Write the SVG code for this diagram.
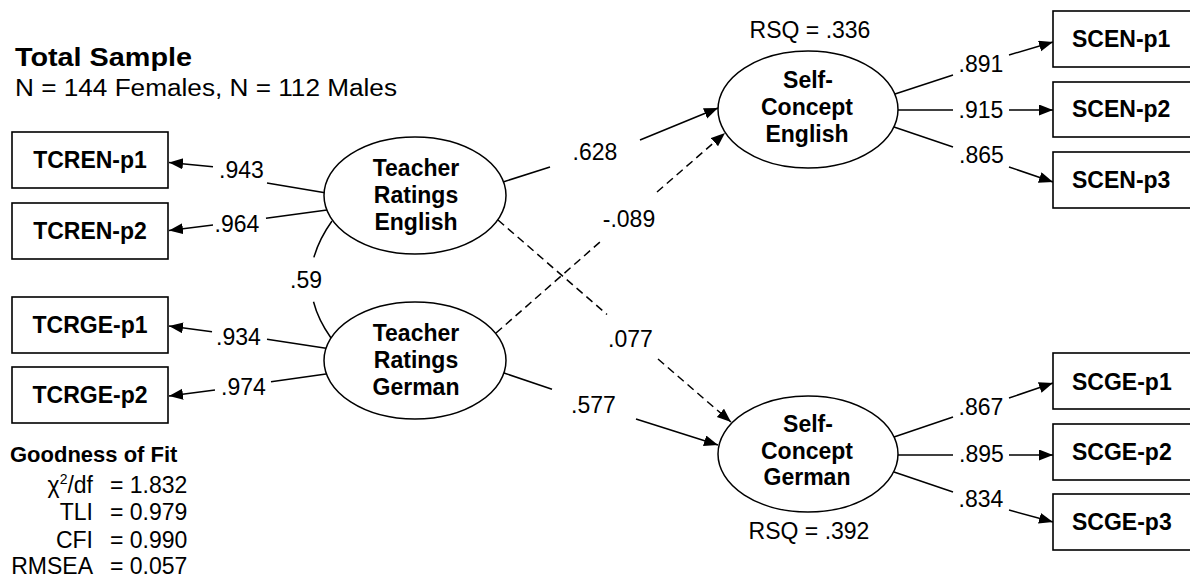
<svg xmlns="http://www.w3.org/2000/svg" width="1190" height="579" viewBox="0 0 1190 579">
<style>
.box{fill:#fff;stroke:#000;stroke-width:1.6}
.lat{fill:#fff;stroke:#000;stroke-width:1.5}
.ln{stroke:#000;stroke-width:1.5;fill:none}
.dash{stroke-dasharray:8 5}
.b{font-family:"Liberation Sans",Arial,Helvetica,sans-serif;font-weight:bold;font-size:23px;fill:#000}
.r{font-family:"Liberation Sans",Arial,Helvetica,sans-serif;font-size:23px;fill:#000}
.m{text-anchor:middle}
.e{text-anchor:end}
</style>
<defs>
<marker id="ah" markerUnits="userSpaceOnUse" markerWidth="16" markerHeight="12" refX="14" refY="5.5" orient="auto">
<path d="M0,0 L14,5.5 L0,11 z" fill="#000"/>
</marker>
</defs>
<rect width="1190" height="579" fill="#fff"/>

<g id="header">
<text class="b" x="15" y="66" font-size="25" textLength="177" lengthAdjust="spacingAndGlyphs" style="font-size:25px">Total Sample</text>
<text class="r" x="15" y="95.5" textLength="382" lengthAdjust="spacingAndGlyphs">N = 144 Females, N = 112 Males</text>
</g>

<g id="connectors">
<!-- left loadings -->
<line class="ln" x1="325" y1="192.7" x2="267" y2="183"/>
<line class="ln" x1="213" y1="166.7" x2="169" y2="162.5" marker-end="url(#ah)"/>
<line class="ln" x1="327" y1="210" x2="266" y2="218.3"/>
<line class="ln" x1="213" y1="225" x2="169" y2="230.5" marker-end="url(#ah)"/>
<line class="ln" x1="326" y1="348.3" x2="267" y2="339.3"/>
<line class="ln" x1="212" y1="331.7" x2="169" y2="326" marker-end="url(#ah)"/>
<line class="ln" x1="326" y1="374" x2="271" y2="381.7"/>
<line class="ln" x1="215" y1="390" x2="169" y2="396" marker-end="url(#ah)"/>
<!-- correlation -->
<path class="ln" d="M332,221 Q319,239.2 313.9,257.4"/>
<path class="ln" d="M313.5,301.8 Q318.2,320 331,338"/>
<!-- structural -->
<line class="ln" x1="503" y1="182" x2="550" y2="167"/>
<line class="ln" x1="640" y1="140" x2="718" y2="108" marker-end="url(#ah)"/>
<line class="ln dash" x1="496" y1="333" x2="600" y2="242"/>
<line class="ln dash" x1="657" y1="192" x2="725" y2="133" marker-end="url(#ah)"/>
<line class="ln dash" x1="498" y1="220" x2="607" y2="314.5"/>
<line class="ln dash" x1="658" y1="359" x2="731" y2="422" marker-end="url(#ah)"/>
<line class="ln" x1="504" y1="373" x2="552" y2="389.3"/>
<line class="ln" x1="636" y1="419" x2="718" y2="445" marker-end="url(#ah)"/>
<!-- right loadings -->
<line class="ln" x1="895" y1="94" x2="953" y2="75"/>
<line class="ln" x1="1009" y1="55" x2="1053" y2="42" marker-end="url(#ah)"/>
<line class="ln" x1="898" y1="110" x2="953" y2="110"/>
<line class="ln" x1="1009" y1="110" x2="1053" y2="110" marker-end="url(#ah)"/>
<line class="ln" x1="894" y1="127" x2="953" y2="147"/>
<line class="ln" x1="1009" y1="167" x2="1053" y2="182" marker-end="url(#ah)"/>
<line class="ln" x1="894" y1="437" x2="953" y2="417"/>
<line class="ln" x1="1009" y1="398" x2="1053" y2="383" marker-end="url(#ah)"/>
<line class="ln" x1="898" y1="455" x2="953" y2="455"/>
<line class="ln" x1="1009" y1="455" x2="1053" y2="455" marker-end="url(#ah)"/>
<line class="ln" x1="894" y1="472" x2="953" y2="492"/>
<line class="ln" x1="1009" y1="510" x2="1053" y2="522" marker-end="url(#ah)"/>
</g>

<g id="connector-labels">
<text class="r m" x="241.5" y="178">.943</text>
<text class="r m" x="237" y="232">.964</text>
<text class="r m" x="238.5" y="345">.934</text>
<text class="r m" x="243.5" y="395">.974</text>
<text class="r m" x="306" y="288">.59</text>
<text class="r m" x="595" y="160">.628</text>
<text class="r m" x="629" y="227">-.089</text>
<text class="r m" x="630.5" y="347">.077</text>
<text class="r m" x="593.5" y="413">.577</text>
<text class="r m" x="981" y="72">.891</text>
<text class="r m" x="981" y="118">.915</text>
<text class="r m" x="981.5" y="163">.865</text>
<text class="r m" x="981" y="415">.867</text>
<text class="r m" x="981.5" y="462">.895</text>
<text class="r m" x="981" y="507">.834</text>
</g>

<g id="TCREN-p1"><rect class="box" x="12" y="132" width="156" height="56"/><text class="b m" x="90" y="168">TCREN-p1</text></g>
<g id="TCREN-p2"><rect class="box" x="12" y="203" width="156" height="56"/><text class="b m" x="90" y="239">TCREN-p2</text></g>
<g id="TCRGE-p1"><rect class="box" x="12" y="297" width="156" height="56"/><text class="b m" x="90" y="333">TCRGE-p1</text></g>
<g id="TCRGE-p2"><rect class="box" x="12" y="367" width="156" height="56"/><text class="b m" x="90" y="403">TCRGE-p2</text></g>

<g id="TR-English"><ellipse class="lat" cx="415" cy="195.5" rx="91" ry="58.5"/>
<text class="b m" x="416" y="175.5">Teacher</text><text class="b m" x="416" y="202.5">Ratings</text><text class="b m" x="416" y="229.5">English</text></g>
<g id="TR-German"><ellipse class="lat" cx="415" cy="360.5" rx="91" ry="58.5"/>
<text class="b m" x="416" y="340.5">Teacher</text><text class="b m" x="416" y="367.5">Ratings</text><text class="b m" x="416" y="394.5">German</text></g>
<g id="SC-English"><ellipse class="lat" cx="808" cy="109.5" rx="90" ry="58.5"/>
<text class="b m" x="808" y="88">Self-</text><text class="b m" x="807" y="114.5">Concept</text><text class="b m" x="807" y="141.5">English</text>
<text class="r m" x="810" y="38">RSQ = .336</text></g>
<g id="SC-German"><ellipse class="lat" cx="808" cy="454" rx="90" ry="58"/>
<text class="b m" x="808" y="431.5">Self-</text><text class="b m" x="807" y="458.5">Concept</text><text class="b m" x="807" y="485">German</text>
<text class="r m" x="809" y="539">RSQ = .392</text></g>

<g id="SCEN-p1"><rect class="box" x="1053" y="11" width="156" height="56"/><text class="b" x="1072" y="46.5">SCEN-p1</text></g>
<g id="SCEN-p2"><rect class="box" x="1053" y="82" width="156" height="55"/><text class="b" x="1072" y="117">SCEN-p2</text></g>
<g id="SCEN-p3"><rect class="box" x="1053" y="152" width="156" height="56"/><text class="b" x="1072" y="188">SCEN-p3</text></g>
<g id="SCGE-p1"><rect class="box" x="1053" y="353" width="156" height="56"/><text class="b" x="1072" y="389.5">SCGE-p1</text></g>
<g id="SCGE-p2"><rect class="box" x="1053" y="424" width="156" height="56"/><text class="b" x="1072" y="460">SCGE-p2</text></g>
<g id="SCGE-p3"><rect class="box" x="1053" y="494" width="156" height="56"/><text class="b" x="1072" y="530">SCGE-p3</text></g>

<g id="fit">
<text class="b" x="10" y="461.5" style="font-size:22px">Goodness of Fit</text>
<text class="r e" x="93" y="493">χ<tspan dy="-9" style="font-size:14px">2</tspan><tspan dy="9">/df</tspan></text>
<text class="r e" x="93" y="520">TLI</text>
<text class="r e" x="93" y="547.5">CFI</text>
<text class="r e" x="93" y="573.5">RMSEA</text>
<text class="r" x="110" y="493">= 1.832</text>
<text class="r" x="110" y="520">= 0.979</text>
<text class="r" x="110" y="547.5">= 0.990</text>
<text class="r" x="110" y="573.5">= 0.057</text>
</g>
</svg>
